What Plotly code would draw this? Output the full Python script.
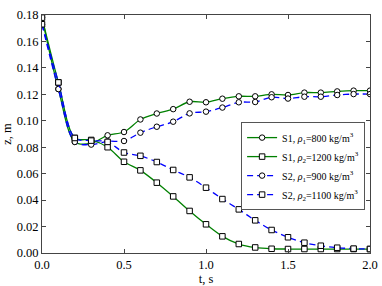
import plotly.graph_objects as go

t = [0.0, 0.1, 0.2, 0.3, 0.4, 0.5, 0.6, 0.7, 0.8, 0.9, 1.0,
     1.1, 1.2, 1.3, 1.4, 1.5, 1.6, 1.7, 1.8, 1.9, 2.0]

s1_rho1 = [0.178, 0.124, 0.084, 0.083, 0.089, 0.0915, 0.101, 0.1055, 0.1088, 0.1144, 0.114,
           0.1167, 0.1185, 0.1185, 0.120, 0.1195, 0.1213, 0.1213, 0.1222, 0.1228, 0.1228]
s1_rho2 = [0.178, 0.129, 0.087, 0.0855, 0.080, 0.069, 0.0625, 0.0532, 0.0428, 0.0318, 0.0217,
           0.0126, 0.0068, 0.0042, 0.0032, 0.003, 0.003, 0.003, 0.003, 0.003, 0.003]
s2_rho1 = [0.173, 0.124, 0.084, 0.082, 0.0845, 0.0847, 0.091, 0.0955, 0.0993, 0.1056, 0.1069,
           0.110, 0.114, 0.1142, 0.1178, 0.1168, 0.1182, 0.1182, 0.1195, 0.1202, 0.1202]
s2_rho2 = [0.173, 0.129, 0.087, 0.085, 0.084, 0.076, 0.0735, 0.0688, 0.0628, 0.0572, 0.0494,
           0.0408, 0.033, 0.0247, 0.0174, 0.0119, 0.0078, 0.0055, 0.004, 0.0033, 0.003]

names = [
    "S1, <i>ρ</i><sub>1</sub>=800 kg/m<sup>3</sup>",
    "S1, <i>ρ</i><sub>2</sub>=1200 kg/m<sup>3</sup>",
    "S2, <i>ρ</i><sub>1</sub>=900 kg/m<sup>3</sup>",
    "S2, <i>ρ</i><sub>2</sub>=1100 kg/m<sup>3</sup>",
]

GREEN = "#008000"
BLUE = "#0000ff"
FONT = "Liberation Serif"

series = [
    (s1_rho1, names[0], GREEN, "solid", "circle"),
    (s1_rho2, names[1], GREEN, "solid", "square"),
    (s2_rho1, names[2], BLUE, "6px,4px", "circle"),
    (s2_rho2, names[3], BLUE, "6px,4px", "square"),
]

fig = go.Figure()
for ys, name, col, dash, sym in series:
    fig.add_trace(go.Scatter(
        x=t, y=ys, name=name, mode="lines+markers",
        line=dict(color=col, width=1.3, dash=dash, shape="spline", smoothing=0.9),
        marker=dict(symbol=sym, size=5.5, color="white",
                    line=dict(color="black", width=1)),
    ))

axis_common = dict(
    showgrid=False, zeroline=False, showline=True, linecolor="#444", linewidth=1,
    mirror="ticks", ticks="inside", ticklen=4, tickcolor="#444", automargin=False,
    tickfont=dict(family=FONT, size=12.5, color="black"),
)

fig.update_layout(
    width=382, height=286,
    margin=dict(l=42, r=12, t=15, b=33),
    paper_bgcolor="white", plot_bgcolor="white",
    font=dict(family=FONT, size=12.5, color="black"),
    xaxis=dict(range=[0, 2], dtick=0.5, tickformat=".1f",
               title=dict(text="t, s", font=dict(family=FONT, size=12.5), standoff=3),
               **axis_common),
    yaxis=dict(range=[0, 0.18], dtick=0.02, tickformat=".2f",
               title=dict(text="z, m", font=dict(family=FONT, size=12.5), standoff=6),
               **axis_common),
    legend=dict(x=0.607, y=0.55, xanchor="left", yanchor="top",
                bgcolor="white", bordercolor="#555", borderwidth=1,
                font=dict(family=FONT, size=10), tracegroupgap=0,
                itemwidth=30),
    showlegend=True,
)

fig.write_html("out.html", config={"displayModeBar": False},
               post_script="document.body.style.margin='0';")
